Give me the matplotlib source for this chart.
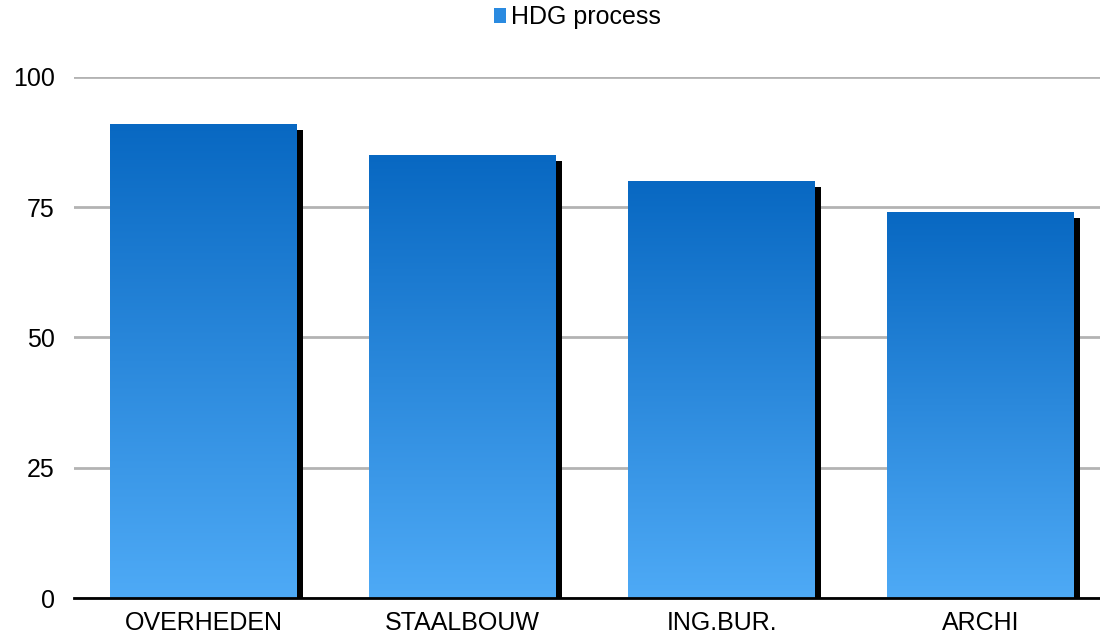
import matplotlib
matplotlib.use("Agg")
import matplotlib.pyplot as plt
import matplotlib.patheffects as pe
from matplotlib.colors import LinearSegmentedColormap
from matplotlib.patches import Patch
import numpy as np

categories = ["OVERHEDEN", "STAALBOUW", "ING.BUR.", "ARCHI"]
values = [91, 85, 80, 74]
series_name = "HDG process"
yticks = [0, 25, 50, 75, 100]

plt.rcParams['font.family'] = ['Liberation Sans', 'DejaVu Sans']

fig = plt.figure(figsize=(11, 6.37), dpi=100)
ax = fig.add_axes([0.0673, 0.0612, 0.942, 0.818])

x = np.arange(len(categories))
bars = ax.bar(x, values, width=0.72, color="#2a8ae0", zorder=3)

cmap = LinearSegmentedColormap.from_list("grad", ["#4eaaf6", "#0868c2"])
grad = np.linspace(0, 1, 256).reshape(-1, 1)
for b in bars:
    b.set_path_effects([pe.SimplePatchShadow(offset=(4.3, -4.3), shadow_rgbFace="black", alpha=1.0), pe.Normal()])
    bx, by = b.get_x(), b.get_y()
    w, h = b.get_width(), b.get_height()
    im = ax.imshow(grad, cmap=cmap, origin="lower", aspect="auto",
                   extent=[bx, bx + w, by, by + h], zorder=4)
    im.set_clip_path(b)

ax.set_xlim(-0.5, len(categories) - 0.5)
ax.set_ylim(0, 100)
ax.set_xticks(x)
ax.set_xticklabels(categories, fontsize=18)
ax.set_yticks(yticks)
ax.set_yticklabels([str(t) for t in yticks], fontsize=18)
ax.tick_params(length=0)
ax.tick_params(axis="y", pad=14)
ax.tick_params(axis="x", pad=9)
ax.yaxis.grid(True, color="#b3b3b3", linewidth=2, zorder=0)
ax.set_axisbelow(True)
for s in ["top", "right", "left"]:
    ax.spines[s].set_visible(False)
ax.spines["bottom"].set_linewidth(2)
ax.spines["bottom"].set_zorder(5)

handle = Patch(facecolor="#2a8ae0")
fig.legend([handle], [series_name], loc="upper center", bbox_to_anchor=(0.525, 1.027),
           frameon=False, fontsize=18, handlelength=0.5, handleheight=0.5, handletextpad=0.2)

fig.savefig("out.png", dpi=100)
